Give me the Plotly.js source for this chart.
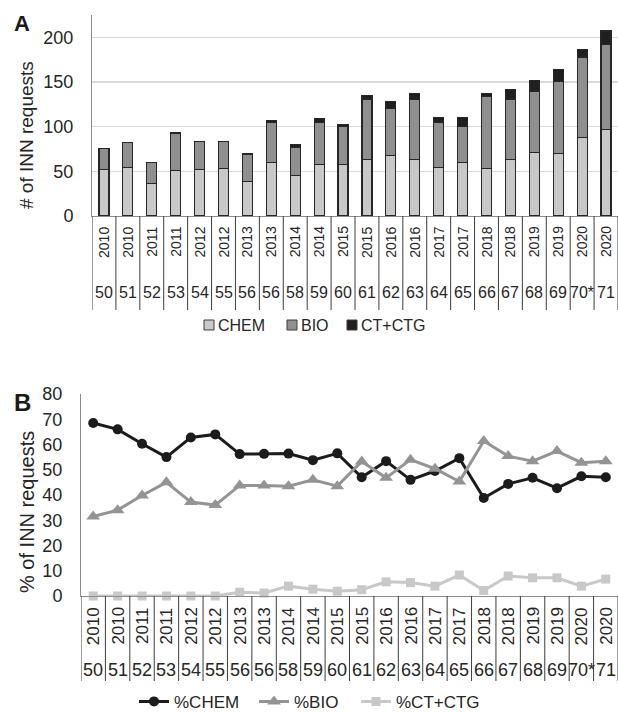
<!DOCTYPE html>
<html>
<head>
<meta charset="utf-8">
<script src="https://cdn.plot.ly/plotly-3.0.1.min.js"></script>
<style>html,body{margin:0;padding:0;background:#fff;}#chart{width:618px;height:712px;}</style>
</head>
<body>
<div id="chart"></div>
<script>
// ---- data ----
const years = ['2010','2010','2011','2011','2012','2012','2013','2013','2014','2014','2015','2015','2016','2016','2017','2017','2018','2018','2019','2019','2020','2020'];
const sessions = ['50','51','52','53','54','55','56','56','58','59','60','61','62','63','64','65','66','67','68','69','70*','71'];
// Panel A: number of INN requests
const chem = [52,54,36,51,52,53,39,60,45,58,58,63,68,63,54,60,53,63,71,70,88,97];
const bio  = [24,28,24,42,31,30,30,45,32,47,42,68,52,67,51,40,81,68,69,81,90,95];
const ctctg = [0,0,0,0,0,0,1,2,3,4,2,4,8,7,5,10,3,11,12,13,8,15];
// Panel B: % of INN requests
const pctChem = [68.5,66,60.3,55,62.8,64,56.2,56.3,56.4,53.8,56.5,47,53.4,46,49.5,54.6,38.8,44.4,46.8,42.7,47.4,47];
const pctBio  = [31.5,34,39.8,45,37.2,36,43.8,43.8,43.5,46,43.5,53.3,46.8,54,50.4,45.3,61.4,55.4,53.4,57.4,52.8,53.4];
const pctCt   = [0,0,0,0,0,0,1.5,1.2,3.9,2.7,1.9,2.5,5.6,5.3,3.9,8.3,2.2,7.9,7.2,7.2,3.9,6.7];

// ---- build ----
const idx = years.map((_, i) => i);
const FONT = 'Liberation Sans, Arial, sans-serif';
const TXT = '#262626';
const W = 618, H = 712;
const py = p => (H - p) / H; // pixel-from-top to paper
const px = p => p / W;

const edge = {color: '#262626', width: 1.2};
const barColors = ['#c8c8c8', '#8f8f8f', '#231f20'];
const barNames = ['CHEM', 'BIO', 'CT+CTG'];
const barSeries = [chem, bio, ctctg];
const traces = barSeries.map((vals, k) => ({
  type:'bar', x: idx, y: vals, name: barNames[k],
  marker:{color: barColors[k], line: edge}, xaxis:'x', yaxis:'y', showlegend:false, hoverinfo:'skip'
}));
traces.push(
  {type:'scatter', mode:'lines+markers', x: idx, y: pctChem, name:'%CHEM', line:{color:'#1c1c1c', width:3}, marker:{symbol:'circle', size:10, color:'#1c1c1c'}, xaxis:'x2', yaxis:'y2', legend:'legend2', legendwidth:75, cliponaxis:false},
  {type:'scatter', mode:'lines+markers', x: idx, y: pctBio, name:'%BIO', line:{color:'#949494', width:3}, marker:{symbol:'triangle-up', size:12, color:'#949494'}, xaxis:'x2', yaxis:'y2', legend:'legend2', legendwidth:57, cliponaxis:false},
  {type:'scatter', mode:'lines+markers', x: idx, y: pctCt, name:'%CT+CTG', line:{color:'#c8c8c8', width:3}, marker:{symbol:'square', size:9, color:'#c8c8c8'}, xaxis:'x2', yaxis:'y2', legend:'legend2', legendwidth:90, cliponaxis:false}
);

const shapes = [];
const annotations = [];
const panels = [
  {xref:'x', top:py(216), bot:py(310), yearY:py(242), sesY:py(292), yearSize:14, sesSize:16},
  {xref:'x2', top:py(596), bot:py(681), yearY:py(626), sesY:py(670), yearSize:17, sesSize:18}
];
panels.forEach(p => {
  for (let k = 0; k <= idx.length; k++) {
    shapes.push({type:'line', xref:p.xref, yref:'paper', x0:k-0.5, x1:k-0.5, y0:p.top, y1:p.bot, line:{color:'#3c3c3c', width:1}});
  }
  idx.forEach(i => {
    annotations.push({xref:p.xref, yref:'paper', x:i, y:p.yearY, text:years[i], textangle:-90, showarrow:false, font:{size:p.yearSize, color:TXT, family:FONT}, xanchor:'center', yanchor:'middle'});
    annotations.push({xref:p.xref, yref:'paper', x:i, y:p.sesY, text:sessions[i], showarrow:false, font:{size:p.sesSize, color:TXT, family:FONT}, xanchor:'center', yanchor:'middle'});
  });
});
// legend for panel A (swatch + label, Excel style)
const legA = [204, 287, 347];
barNames.forEach((nm, k) => {
  shapes.push({type:'rect', xref:'paper', yref:'paper', x0:px(legA[k]), x1:px(legA[k]+10), y0:py(330), y1:py(320), fillcolor:barColors[k], line:{color:'#3c3c3c', width:1}});
  annotations.push({xref:'paper', yref:'paper', x:px(legA[k]+12), y:py(325), text:nm, showarrow:false, xanchor:'left', yanchor:'middle', font:{size:16, color:TXT, family:FONT}});
});
// panel letters and axis titles
annotations.push({xref:'paper', yref:'paper', x:px(22), y:py(24), text:'<b>A</b>', showarrow:false, font:{size:22, color:'#1a1a1a', family:FONT}, xanchor:'center', yanchor:'middle'});
annotations.push({xref:'paper', yref:'paper', x:px(22), y:py(402), text:'<b>B</b>', showarrow:false, font:{size:24, color:'#1a1a1a', family:FONT}, xanchor:'center', yanchor:'middle'});
annotations.push({xref:'paper', yref:'paper', x:px(26), y:py(135), text:'# of INN requests', textangle:-90, showarrow:false, font:{size:19, color:TXT, family:FONT}, xanchor:'center', yanchor:'middle'});
annotations.push({xref:'paper', yref:'paper', x:px(27), y:py(512), text:'% of INN requests', textangle:-90, showarrow:false, font:{size:20, color:TXT, family:FONT}, xanchor:'center', yanchor:'middle'});

const layout = {
  width: W, height: H,
  margin: {l:0, r:0, t:0, b:0, autoexpand:false},
  paper_bgcolor:'#ffffff', plot_bgcolor:'#ffffff',
  font: {family: FONT, color: TXT},
  barmode: 'stack', bargap: 0.58,
  showlegend: true,
  xaxis: {domain:[px(92), 1], range:[-0.5, 21.5], anchor:'y', showticklabels:false, ticks:'', showgrid:false, zeroline:false, showline:true, linecolor:'#8c8c8c', linewidth:1, fixedrange:true},
  yaxis: {domain:[py(216), py(15)], range:[0, 225], anchor:'x', tickvals:[0,50,100,150,200], showgrid:true, gridcolor:'#d9d9d9', gridwidth:1.3, zeroline:false, showline:true, linecolor:'#8c8c8c', linewidth:1, ticks:'', ticklabelstandoff:14, tickfont:{size:18, color:TXT}, automargin:false, fixedrange:true},
  xaxis2: {domain:[px(81), 1], range:[-0.5, 21.5], anchor:'y2', showticklabels:false, ticks:'', showgrid:false, zeroline:false, showline:true, linecolor:'#8c8c8c', linewidth:1, fixedrange:true},
  yaxis2: {domain:[py(596), py(394)], range:[0, 80], anchor:'x2', dtick:10, showgrid:false, zeroline:false, showline:true, linecolor:'#8c8c8c', linewidth:1, ticks:'', ticklabelstandoff:14, tickfont:{size:18, color:TXT}, automargin:false, fixedrange:true},
  legend2: {orientation:'h', x:px(134), xanchor:'left', y:-0.011, yanchor:'bottom', font:{size:17, color:TXT}, bgcolor:'rgba(0,0,0,0)', traceorder:'normal'},
  shapes: shapes,
  annotations: annotations
};

Plotly.newPlot('chart', traces, layout, {displayModeBar:false, staticPlot:true});
</script>
</body>
</html>
